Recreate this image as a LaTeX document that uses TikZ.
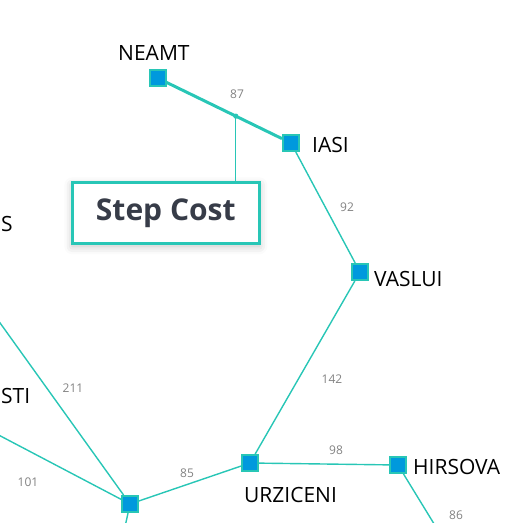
\documentclass[tikz,border=0pt]{standalone}
\usepackage{fontspec}
\setmainfont{Open Sans}
\usetikzlibrary{shadows.blur}
\definecolor{teal1}{RGB}{40,198,182}
\definecolor{sqblue}{RGB}{0,153,221}
\definecolor{lblgrey}{RGB}{130,130,130}
\definecolor{boxtext}{RGB}{55,60,72}
\tikzset{
  city/.style={draw=teal1, line width=2pt, fill=sqblue, minimum size=16pt, inner sep=0pt, rectangle},
  cityname/.style={inner sep=0pt, font=\fontsize{21}{21}\selectfont, text=black},
  edge/.style={draw=teal1, line width=1.4pt},
  costlbl/.style={font=\fontsize{12}{12}\selectfont, text=lblgrey, inner sep=0pt},
}
\begin{document}
\begin{tikzpicture}[x=1pt,y=-1pt]
\useasboundingbox (0,0) rectangle (527,522);
\clip (0,0) rectangle (527,522);
% off-canvas ends
\coordinate (fag) at (-20,295);
\coordinate (pit) at (-30,420);
\coordinate (giu) at (121,545);
\coordinate (efo) at (447,545);
% cities
\node[city] (neamt) at (157.5,78) {};
\node[city] (iasi) at (291,143) {};
\node[city] (vaslui) at (360,272) {};
\node[city] (urz) at (250,463) {};
\node[city] (hir) at (398,465) {};
\node[city] (buc) at (130,504) {};
% edges
\draw[edge, line width=3pt] (neamt) -- (iasi) coordinate[pos=0.6] (mid);
\draw[edge] (iasi) -- (vaslui);
\draw[edge] (vaslui) -- (urz);
\draw[edge] (urz) -- (hir);
\draw[edge] (urz) -- (buc);
\draw[edge] (fag) -- (buc);
\draw[edge] (pit) -- (buc);
\draw[edge] (buc) -- (giu);
\draw[edge] (hir) -- (efo);
% redraw squares on top
\node[city] at (neamt) {};
\node[city] at (iasi) {};
\node[city] at (vaslui) {};
\node[city] at (urz) {};
\node[city] at (hir) {};
\node[city] at (buc) {};
% names
\node[cityname, anchor=base west] (nneamt) at (118,60) {NEAMT};
\node[cityname, anchor=base west] (niasi) at (312,152) {IASI};
\node[cityname, anchor=base west] (nvaslui) at (374,286) {VASLUI};
\node[cityname, anchor=base west] (nhir) at (413,474) {HIRSOVA};
\node[cityname, anchor=base west] (nurz) at (244,502) {URZICENI};
\node[cityname, anchor=base west] (nfag) at (1,231) {S};
\node[cityname, anchor=base west] (npit) at (1,403) {STI};
% costs
\node[costlbl] (c87) at (237,94) {87};
\node[costlbl] (c92) at (347,207) {92};
\node[costlbl] (c142) at (332,379) {142};
\node[costlbl] (c98) at (336,450) {98};
\node[costlbl] (c85) at (187,473) {85};
\node[costlbl] (c211) at (73,388) {211};
\node[costlbl] (c101) at (28,482) {101};
\node[costlbl] (c86) at (456,515) {86};
% callout
\fill[teal1] (mid) circle (2.6pt);
\node[draw=teal1, line width=2.6pt, fill=white, minimum width=187pt, minimum height=61pt,
  blur shadow={shadow xshift=0pt, shadow yshift=-3pt, shadow blur radius=8pt, shadow opacity=25},
  font=\fontsize{30}{30}\selectfont\bfseries, text=boxtext, anchor=north west] (box) at (71,181) {Step Cost};
\draw[teal1, line width=1.3pt] (mid) -- (mid |- box.north);
\end{tikzpicture}
\end{document}
